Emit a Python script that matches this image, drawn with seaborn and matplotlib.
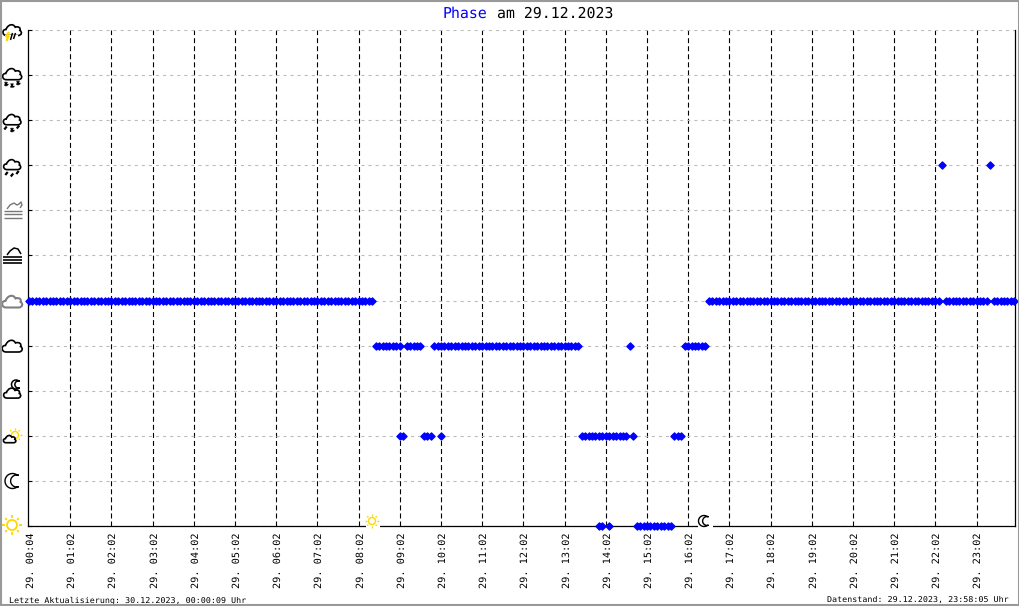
import numpy as np
import pandas as pd
from matplotlib import pyplot as plt
import seaborn as sns
from matplotlib.patches import PathPatch, Circle, Rectangle
from matplotlib.path import Path
from matplotlib.lines import Line2D
from matplotlib.transforms import Affine2D, ScaledTranslation

# samples are evenly spaced on the x axis, one tick every 12 samples
tick_samples = [0, 12, 24, 36, 48, 60, 72, 84, 96, 108, 120, 132, 144, 156, 168, 180, 192, 204, 216, 228, 240, 252, 264, 276]
tick_labels = ["29. 00:04", "29. 01:02", "29. 02:02", "29. 03:02", "29. 04:02", "29. 05:02",
               "29. 06:02", "29. 07:02", "29. 08:02", "29. 09:02", "29. 10:02", "29. 11:02",
               "29. 12:02", "29. 13:02", "29. 14:02", "29. 15:02", "29. 16:02", "29. 17:02",
               "29. 18:02", "29. 19:02", "29. 20:02", "29. 21:02", "29. 22:02", "29. 23:02"]

# phase 0 sun, 1 moon, 2 sun+cloud, 3 moon+cloud, 4 cloud, 5 overcast,
# 6 fog, 7 fog night, 8 rain, 9 sleet, 10 snow, 11 thunder
phase_0 = [166, 167, 169, 177, 178, 179, 180, 181, 182, 183, 184, 185, 186, 187]
phase_2 = [108, 109, 115, 116, 117, 120,
           161, 162, 163, 164, 165, 166, 167, 168, 169, 170, 171, 172, 173, 174, 176,
           188, 189, 190]
phase_4 = [101, 102, 103, 104, 105, 106, 107, 108, 110, 111, 112, 113, 114,
           118, 119, 120, 121, 122, 123, 124, 125, 126, 127, 128, 129, 130, 131, 132, 133, 134,
           135, 136, 137, 138, 139, 140, 141, 142, 143, 144, 145, 146, 147, 148, 149, 150, 151,
           152, 153, 154, 155, 156, 157, 158, 159, 160,
           175,
           191, 192, 193, 194, 195, 196, 197]
phase_5 = [0, 1, 2, 3, 4, 5, 6, 7, 8, 9, 10, 11, 12, 13, 14, 15, 16, 17, 18, 19, 20, 21, 22, 23, 24,
           25, 26, 27, 28, 29, 30, 31, 32, 33, 34, 35, 36, 37, 38, 39, 40, 41, 42, 43, 44, 45, 46, 47,
           48, 49, 50, 51, 52, 53, 54, 55, 56, 57, 58, 59, 60, 61, 62, 63, 64, 65, 66, 67, 68, 69, 70,
           71, 72, 73, 74, 75, 76, 77, 78, 79, 80, 81, 82, 83, 84, 85, 86, 87, 88, 89, 90, 91, 92, 93,
           94, 95, 96, 97, 98, 99, 100,
           198, 199, 200, 201, 202, 203, 204, 205, 206, 207, 208, 209, 210, 211, 212, 213, 214, 215,
           216, 217, 218, 219, 220, 221, 222, 223, 224, 225, 226, 227, 228, 229, 230, 231, 232, 233,
           234, 235, 236, 237, 238, 239, 240, 241, 242, 243, 244, 245, 246, 247, 248, 249, 250, 251,
           252, 253, 254, 255, 256, 257, 258, 259, 260, 261, 262, 263, 264, 265,
           267, 268, 269, 270, 271, 272, 273, 274, 275, 276, 277, 278, 279,
           281, 282, 283, 284, 285, 286, 287]
phase_8 = [266, 280]

rows = []
for phase, samples in [(0, phase_0), (2, phase_2), (4, phase_4), (5, phase_5), (8, phase_8)]:
    for s in samples:
        rows.append((s, phase))
df = pd.DataFrame(rows, columns=["sample", "phase"])

W, H = 1020, 606
MONO = ['DejaVu Sans Mono', 'Liberation Mono']

sns.set_style("white")
plt.rcParams['lines.scale_dashes'] = False
plt.rcParams['text.hinting'] = 'no_hinting'
fig = plt.figure(figsize=(W / 100, H / 100), dpi=100, facecolor='white')
ax = fig.add_axes([28 / W, 1 - 526 / H, (1015 - 28) / W, (526 - 30) / H])

sns.scatterplot(data=df, x="sample", y="phase", ax=ax, marker='D', color='#0000ff', s=13,
                linewidth=1.0, edgecolor='#0000ff', antialiased=False, clip_on=False, zorder=5, legend=False)

ax.set_xlim(-0.3, 287.2)
ax.set_ylim(0, 11)
ax.set_xlabel('')
ax.set_ylabel('')
ax.set_yticks(range(12))
ax.set_yticklabels([])
ax.set_xticks(tick_samples)
ax.set_xticklabels(tick_labels, rotation=90, family=MONO, fontsize=7.4, color='black')
ax.tick_params(axis='x', length=0, pad=4.5)
ax.tick_params(axis='y', length=3, width=0.8, direction='in', color='black', left=True)
for lab in ax.get_xticklabels():
    lab.set_transform(lab.get_transform() + ScaledTranslation(2 / 100, 0, fig.dpi_scale_trans))

ax.set_axisbelow(True)
ax.xaxis.grid(True, color='black', linewidth=0.8, linestyle=(0, (3.6, 2.2)))
ax.yaxis.grid(True, color='#bbbbbb', linewidth=0.8, linestyle=(0, (2.2, 2.9)))
ax.xaxis.get_gridlines()[0].set_visible(False)
for name in ['left', 'bottom', 'right']:
    ax.spines[name].set_visible(True)
    ax.spines[name].set_color('black')
    ax.spines[name].set_linewidth(0.9)
ax.spines['top'].set_visible(False)

# everything outside the axes is placed in image pixels, y going down
px = Affine2D().scale(1 / W, -1 / H).translate(0, 1) + fig.transFigure


def add(artist):
    artist.set_transform(px)
    artist.set_zorder(10)
    artist.set_clip_on(False)
    fig.add_artist(artist)


def stroke(xs, ys, color='black', lw=1.0):
    add(Line2D(xs, ys, color=color, linewidth=lw, solid_capstyle='butt'))


def cloud(cx, cy, scale=1.0, color='black', lw=1.2):
    pts = np.array([(-6, 6), (-11, 6), (-11, -1), (-6.5, -0.5),
                    (-5, -5.5), (1, -8), (3.5, -3),
                    (7, -4.5), (10, -2), (8.5, 0.5),
                    (11.5, 2), (10.5, 6), (6.5, 6), (-6, 6)], dtype=float)
    codes = [Path.MOVETO] + [Path.CURVE4] * 12 + [Path.LINETO]
    verts = pts * scale + (cx, cy)
    add(PathPatch(Path(verts, codes), facecolor='white', edgecolor=color, linewidth=lw))


def sun(cx, cy, r, color='#ffd700', lw=1.0):
    ang = np.deg2rad(np.arange(0, 360, 45))
    for a in ang:
        stroke([cx + np.cos(a) * r * 1.45, cx + np.cos(a) * r * 1.95],
               [cy + np.sin(a) * r * 1.45, cy + np.sin(a) * r * 1.95], color=color, lw=lw)
    add(Circle((cx, cy), r, facecolor='white', edgecolor=color, linewidth=lw))


def moon(cx, cy, r, color='black', lw=1.0):
    t = np.deg2rad(np.linspace(60, 300, 40))
    outer = np.c_[np.cos(t) * r + cx, np.sin(t) * r + cy]
    t2 = np.deg2rad(np.linspace(290, 70, 40))
    inner = np.c_[np.cos(t2) * r * 0.8 + cx + r * 0.55, np.sin(t2) * r * 0.8 + cy]
    verts = np.vstack([outer, inner, outer[:1]])
    add(PathPatch(Path(verts), facecolor='white', edgecolor=color, linewidth=lw))


def flake(cx, cy, r=2.4):
    for a in np.deg2rad([0, 60, 120]):
        stroke([cx - np.cos(a) * r, cx + np.cos(a) * r],
               [cy - np.sin(a) * r, cy + np.sin(a) * r], lw=1.0)


def drop(cx, cy):
    stroke([cx + 1.2, cx - 1.2], [cy - 1.5, cy + 1.5], lw=1.6)


# thunder
cloud(12, 30, 0.92)
add(Rectangle((5, 35), 13, 4, facecolor='white', edgecolor='none'))
stroke([9, 6, 8.5, 6.5], [32, 36.5, 36, 41], color='#ffd700', lw=1.6)
stroke([12.5, 10.5], [33, 40], lw=1.1)
stroke([15.5, 13.5], [33, 39], lw=1.1)
# snow
cloud(12, 74, 0.95)
flake(6, 84)
flake(12, 85.5)
flake(18, 83)
# sleet
cloud(12, 119.5, 0.88)
drop(5.5, 128)
flake(12, 130)
drop(18, 127)
# rain
cloud(12, 164.5, 0.85)
drop(6.5, 173.5)
drop(12, 175)
drop(17.5, 172.5)
# fog night
stroke([7, 10, 14, 17, 19, 21, 22, 20], [209, 205, 203, 205, 204, 202, 205, 208], color='#777777')
for y in [210.5, 214, 218]:
    stroke([4, 22], [y, y], color='#777777', lw=1.0)
# fog
stroke([7, 10, 14, 18, 21], [255, 251, 248, 249, 254], lw=1.1)
for y in [256.5, 259.5, 262.5]:
    stroke([3, 22], [y, y], lw=1.2)
# overcast and cloud
cloud(12, 301.5, 1.0, color='#808080', lw=1.5)
cloud(12, 346, 1.0)
# moon + cloud
moon(16, 384.5, 4.5, lw=1.1)
cloud(12, 393, 0.85)
# sun + cloud
sun(15, 435, 3.5)
cloud(9.5, 439, 0.62)
# moon, sun on the left
moon(12.5, 481, 7.5)
sun(12, 525, 5, lw=1.3)

# symbols for sunrise and sunset sit on the x axis and break it
add(Rectangle((366, 520), 14, 10, facecolor='white', edgecolor='none'))
sun(372, 521, 3.5)
add(Rectangle((698, 520), 15, 10, facecolor='white', edgecolor='none'))
moon(704, 521, 5.5)

add(Rectangle((0.5, 0.5), W - 1.5, H - 1.5, facecolor='none', edgecolor='#999999', linewidth=1.5))

fig.text(443, 18, "Phase", transform=px, family=MONO, fontsize=10.7, color='#0000ff', va='baseline')
fig.text(497, 18, "am 29.12.2023", transform=px, family=MONO, fontsize=10.7, color='black', va='baseline')
fig.text(9, 602, "Letzte Aktualisierung: 30.12.2023, 00:00:09 Uhr", transform=px, family=MONO,
         fontsize=6, color='black', va='baseline')
fig.text(1009, 602, "Datenstand: 29.12.2023, 23:58:05 Uhr", transform=px, family=MONO,
         fontsize=6, color='black', va='baseline', ha='right')

plt.savefig("out.png", dpi=100)
